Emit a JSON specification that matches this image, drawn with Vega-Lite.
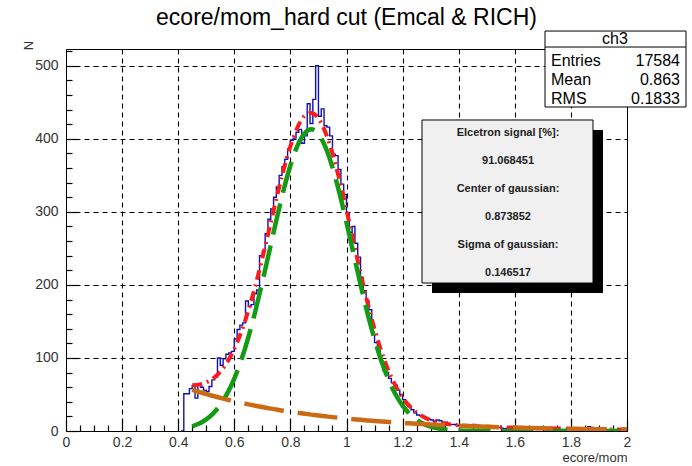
{
  "$schema": "https://vega.github.io/schema/vega-lite/v6.json",
  "width": 561,
  "height": 382,
  "autosize": {"type": "none"},
  "padding": {"left": 66, "top": 49, "right": 65, "bottom": 35},
  "background": "white",
  "config": {
    "font": "Liberation Sans",
    "view": {"stroke": "black", "strokeWidth": 1}
  },
  "title": {"text": "ecore/mom_hard cut (Emcal & RICH)", "fontSize": 23, "fontWeight": "normal", "color": "black", "offset": 1},
  "datasets": {
    "hist": [
      {"x":0.41,"n":0},{"x":0.42,"n":51},{"x":0.43,"n":51},{"x":0.44,"n":58},{"x":0.45,"n":62},{"x":0.46,"n":45},{"x":0.47,"n":64},{"x":0.48,"n":60},{"x":0.49,"n":56},
      {"x":0.50,"n":54},{"x":0.51,"n":61},{"x":0.52,"n":70},{"x":0.53,"n":74},{"x":0.54,"n":100},{"x":0.55,"n":90},{"x":0.56,"n":99},{"x":0.57,"n":105},{"x":0.58,"n":107},{"x":0.59,"n":109},
      {"x":0.60,"n":126},{"x":0.61,"n":139},{"x":0.62,"n":145},{"x":0.63,"n":148},{"x":0.64,"n":178},{"x":0.65,"n":171},{"x":0.66,"n":173},{"x":0.67,"n":188},{"x":0.68,"n":193},{"x":0.69,"n":240},
      {"x":0.70,"n":246},{"x":0.71,"n":270},{"x":0.72,"n":290},{"x":0.73,"n":304},{"x":0.74,"n":320},{"x":0.75,"n":334},{"x":0.76,"n":350},{"x":0.77,"n":362},{"x":0.78,"n":372},{"x":0.79,"n":386},
      {"x":0.80,"n":398},{"x":0.81,"n":401},{"x":0.82,"n":409},{"x":0.83,"n":413},{"x":0.84,"n":394},{"x":0.85,"n":404},{"x":0.86,"n":448},{"x":0.87,"n":421},{"x":0.88,"n":454},{"x":0.89,"n":500},
      {"x":0.90,"n":431},{"x":0.91,"n":441},{"x":0.92,"n":418},{"x":0.93,"n":416},{"x":0.94,"n":404},{"x":0.95,"n":379},{"x":0.96,"n":377},{"x":0.97,"n":358},{"x":0.98,"n":338},{"x":0.99,"n":324},
      {"x":1.00,"n":298},{"x":1.01,"n":272},{"x":1.02,"n":280},{"x":1.03,"n":257},{"x":1.04,"n":238},{"x":1.05,"n":210},{"x":1.06,"n":192},{"x":1.07,"n":178},{"x":1.08,"n":166},{"x":1.09,"n":132},
      {"x":1.10,"n":121},{"x":1.11,"n":110},{"x":1.12,"n":96},{"x":1.13,"n":83},{"x":1.14,"n":80},{"x":1.15,"n":72},{"x":1.16,"n":66},{"x":1.17,"n":63},{"x":1.18,"n":56},{"x":1.19,"n":50},
      {"x":1.20,"n":43},{"x":1.21,"n":37},{"x":1.22,"n":33},{"x":1.23,"n":29},{"x":1.24,"n":25},{"x":1.25,"n":22},{"x":1.26,"n":21},{"x":1.27,"n":20},{"x":1.28,"n":17},{"x":1.29,"n":16},
      {"x":1.30,"n":15},{"x":1.31,"n":13},{"x":1.32,"n":15},{"x":1.33,"n":14},{"x":1.34,"n":12},{"x":1.35,"n":12},{"x":1.36,"n":10},{"x":1.37,"n":9},{"x":1.38,"n":9},{"x":1.39,"n":8},
      {"x":1.40,"n":7},{"x":1.41,"n":7},{"x":1.42,"n":6},{"x":1.43,"n":7},{"x":1.44,"n":6},{"x":1.45,"n":9},{"x":1.46,"n":8},{"x":1.47,"n":6},{"x":1.48,"n":5},{"x":1.49,"n":5},
      {"x":1.50,"n":6},{"x":1.51,"n":4},{"x":1.52,"n":5},{"x":1.53,"n":4},{"x":1.54,"n":5},{"x":1.55,"n":4},{"x":1.56,"n":3},{"x":1.57,"n":4},{"x":1.58,"n":5},{"x":1.59,"n":3},
      {"x":1.60,"n":4},{"x":1.61,"n":3},{"x":1.62,"n":3},{"x":1.63,"n":4},{"x":1.64,"n":3},{"x":1.65,"n":2},{"x":1.66,"n":3},{"x":1.67,"n":3},{"x":1.68,"n":2},{"x":1.69,"n":3},
      {"x":1.70,"n":2},{"x":1.71,"n":3},{"x":1.72,"n":2},{"x":1.73,"n":2},{"x":1.74,"n":3},{"x":1.75,"n":2},{"x":1.76,"n":2},{"x":1.77,"n":1},{"x":1.78,"n":2},{"x":1.79,"n":2},
      {"x":1.80,"n":1},{"x":1.81,"n":2},{"x":1.82,"n":1},{"x":1.83,"n":2},{"x":1.84,"n":1},{"x":1.85,"n":2},{"x":1.86,"n":6},{"x":1.87,"n":5},{"x":1.88,"n":2},{"x":1.89,"n":1},
      {"x":1.90,"n":1},{"x":1.91,"n":2},{"x":1.92,"n":1},{"x":1.93,"n":1},{"x":1.94,"n":0},{"x":1.95,"n":1},{"x":1.96,"n":1},{"x":1.97,"n":0},{"x":1.98,"n":1},{"x":1.99,"n":0},{"x":2.00,"n":0}
    ],
    "fit": [
      {"x":0.45,"g":6.27,"b":56.4,"s":62.7},{"x":0.475,"g":10.12,"b":53.4,"s":63.5},{"x":0.50,"g":15.88,"b":50.6,"s":66.5},{"x":0.525,"g":24.19,"b":47.9,"s":72.1},
      {"x":0.55,"g":35.79,"b":45.4,"s":81.2},{"x":0.575,"g":51.45,"b":43.0,"s":94.4},{"x":0.60,"g":71.83,"b":40.7,"s":112.5},{"x":0.625,"g":97.42,"b":38.6,"s":136.0},
      {"x":0.65,"g":128.3,"b":36.5,"s":164.8},{"x":0.675,"g":164.2,"b":34.6,"s":198.8},{"x":0.70,"g":204.0,"b":32.8,"s":236.8},{"x":0.725,"g":246.2,"b":31.0,"s":277.2},
      {"x":0.75,"g":288.7,"b":29.4,"s":318.1},{"x":0.775,"g":328.7,"b":27.8,"s":356.5},{"x":0.80,"g":363.5,"b":26.4,"s":389.9},{"x":0.825,"g":390.5,"b":25.0,"s":415.5},
      {"x":0.85,"g":407.5,"b":23.7,"s":431.2},{"x":0.875,"g":413.0,"b":22.4,"s":435.4},{"x":0.90,"g":406.5,"b":21.2,"s":427.7},{"x":0.925,"g":388.7,"b":20.1,"s":408.8},
      {"x":0.95,"g":361.0,"b":19.0,"s":380.0},{"x":0.975,"g":325.6,"b":18.0,"s":343.6},{"x":1.00,"g":285.3,"b":17.1,"s":302.4},{"x":1.025,"g":242.8,"b":16.2,"s":259.0},
      {"x":1.05,"g":200.7,"b":15.3,"s":216.0},{"x":1.075,"g":161.1,"b":14.5,"s":175.6},{"x":1.10,"g":125.6,"b":13.8,"s":139.4},{"x":1.125,"g":95.2,"b":13.0,"s":108.2},
      {"x":1.15,"g":70.0,"b":12.3,"s":82.3},{"x":1.175,"g":50.0,"b":11.7,"s":61.7},{"x":1.20,"g":34.7,"b":11.1,"s":45.8},{"x":1.225,"g":23.4,"b":10.5,"s":33.9},
      {"x":1.25,"g":15.33,"b":9.93,"s":25.3},{"x":1.275,"g":9.75,"b":9.41,"s":19.2},{"x":1.30,"g":6.02,"b":8.91,"s":14.9},{"x":1.35,"g":2.11,"b":8.0,"s":10.1},
      {"x":1.40,"g":0.66,"b":7.17,"s":7.83},{"x":1.45,"g":0.18,"b":6.44,"s":6.62},{"x":1.50,"g":0.05,"b":5.78,"s":5.83},{"x":1.55,"g":0.01,"b":5.18,"s":5.19},
      {"x":1.60,"g":0,"b":4.65,"s":4.65},{"x":1.65,"g":0,"b":4.17,"s":4.17},{"x":1.70,"g":0,"b":3.74,"s":3.74},{"x":1.75,"g":0,"b":3.36,"s":3.36},
      {"x":1.80,"g":0,"b":3.01,"s":3.01},{"x":1.85,"g":0,"b":2.70,"s":2.70},{"x":1.90,"g":0,"b":2.42,"s":2.42},{"x":1.95,"g":0,"b":2.17,"s":2.17},{"x":2.00,"g":0,"b":1.95,"s":1.95}
    ]
  },
  "layer": [
    {
      "data": {"name": "hist"},
      "mark": {"type": "line", "interpolate": "step-after", "color": "#1010b0", "strokeWidth": 1.4, "clip": true},
      "encoding": {
        "x": {"field": "x", "type": "quantitative", "scale": {"domain": [0, 2], "nice": false, "zero": false},
          "axis": {
            "values": [0,0.05,0.1,0.15,0.2,0.25,0.3,0.35,0.4,0.45,0.5,0.55,0.6,0.65,0.7,0.75,0.8,0.85,0.9,0.95,1,1.05,1.1,1.15,1.2,1.25,1.3,1.35,1.4,1.45,1.5,1.55,1.6,1.65,1.7,1.75,1.8,1.85,1.9,1.95,2],
            "tickCount": 200,
            "format": ".2~f",
            "labelExpr": "abs(datum.value*5-round(datum.value*5))<0.001 ? datum.label : ''",
            "tickSize": -12,
            "tickDash": {"condition": {"test": "abs(datum.value*5-round(datum.value*5))<0.001", "value": [12, 2]}, "value": [6, 30]},
            "grid": true,
            "gridColor": "black", "gridDash": [5, 4], "gridWidth": 1.1,
            "gridOpacity": {"condition": {"test": "abs(datum.value*5-round(datum.value*5))<0.001 && datum.value>0.01 && datum.value<1.99", "value": 1}, "value": 0},
            "tickColor": "black", "tickWidth": 1.2, "domainColor": "black", "domainWidth": 1,
            "labelFontSize": 14, "labelColor": "#333", "labelPadding": 16, "labelFlush": false, "labelOverlap": false,
            "title": "ecore/mom", "titleFontSize": 13, "titleFontWeight": "normal", "titleColor": "#333",
            "titleAnchor": "end", "titleAlign": "right", "titleBaseline": "middle", "titleX": 561, "titleY": 26
          }},
        "y": {"field": "n", "type": "quantitative", "scale": {"domain": [0, 523], "nice": false, "zero": false},
          "axis": {
            "values": [0,20,40,60,80,100,120,140,160,180,200,220,240,260,280,300,320,340,360,380,400,420,440,460,480,500,520],
            "tickCount": 200,
            "labelExpr": "abs(datum.value/100-round(datum.value/100))<0.001 ? datum.label : ''",
            "tickSize": -12,
            "tickDash": {"condition": {"test": "abs(datum.value/100-round(datum.value/100))<0.001", "value": [12, 2]}, "value": [6, 30]},
            "grid": true,
            "gridColor": "black", "gridDash": [5, 4], "gridWidth": 1.1,
            "gridOpacity": {"condition": {"test": "abs(datum.value/100-round(datum.value/100))<0.001 && datum.value>1", "value": 1}, "value": 0},
            "tickColor": "black", "tickWidth": 1.2, "domainColor": "black", "domainWidth": 1,
            "labelFontSize": 14, "labelColor": "#333", "labelPadding": 20, "labelFlush": false, "labelOverlap": false,
            "title": "N", "titleFontSize": 13, "titleFontWeight": "normal", "titleColor": "#333",
            "titleAngle": 270, "titleAlign": "center", "titleBaseline": "middle", "titleX": -38, "titleY": -4
          }}
      }
    },
    {
      "data": {"name": "fit"},
      "mark": {"type": "line", "interpolate": "monotone", "color": "#ff1a1a", "strokeWidth": 4, "strokeDash": [10, 5, 2, 5], "clip": true},
      "encoding": {"x": {"field": "x", "type": "quantitative"}, "y": {"field": "s", "type": "quantitative"}}
    },
    {
      "data": {"name": "fit"},
      "mark": {"type": "line", "interpolate": "monotone", "color": "#149b14", "strokeWidth": 4.5, "strokeDash": [32, 11], "clip": true},
      "encoding": {"x": {"field": "x", "type": "quantitative"}, "y": {"field": "g", "type": "quantitative"}}
    },
    {
      "data": {"name": "fit"},
      "mark": {"type": "line", "interpolate": "monotone", "color": "#cc6a14", "strokeWidth": 4.5, "strokeDash": [40, 14], "clip": true},
      "encoding": {"x": {"field": "x", "type": "quantitative"}, "y": {"field": "b", "type": "quantitative"}}
    },
    {
      "data": {"values": [{}]},
      "mark": {"type": "rect", "fill": "black"},
      "encoding": {
        "x": {"datum": 1.3048, "type": "quantitative"}, "x2": {"datum": 1.9144},
        "y": {"datum": 412.1, "type": "quantitative"}, "y2": {"datum": 188.9}
      }
    },
    {
      "data": {"values": [{}]},
      "mark": {"type": "rect", "fill": "#f0f0f0", "stroke": "black", "strokeWidth": 1},
      "encoding": {
        "x": {"datum": 1.2692, "type": "quantitative"}, "x2": {"datum": 1.8788},
        "y": {"datum": 425.8, "type": "quantitative"}, "y2": {"datum": 202.6}
      }
    },
    {
      "data": {"values": [{}]},
      "mark": {"type": "text", "font": "Liberation Sans", "fontSize": 11, "fontWeight": "bold", "color": "#222", "align": "center", "baseline": "top", "lineHeight": 28},
      "encoding": {
        "x": {"datum": 1.5758, "type": "quantitative"},
        "y": {"datum": 416.4, "type": "quantitative"},
        "text": {"value": ["Elcetron signal [%]:", "91.068451", "Center of gaussian:", "0.873852", "Sigma of gaussian:", "0.146517"]}
      }
    },
    {
      "data": {"values": [{}]},
      "mark": {"type": "rect", "fill": "white", "stroke": "black", "strokeWidth": 1},
      "encoding": {
        "x": {"datum": 1.7077, "type": "quantitative"}, "x2": {"datum": 2.2103},
        "y": {"datum": 547.6, "type": "quantitative"}, "y2": {"datum": 443.6}
      }
    },
    {
      "data": {"values": [{}]},
      "mark": {"type": "rule", "color": "black", "strokeWidth": 1},
      "encoding": {
        "x": {"datum": 1.7077, "type": "quantitative"}, "x2": {"datum": 2.2103},
        "y": {"datum": 525.7, "type": "quantitative"}
      }
    },
    {
      "data": {"values": [{}]},
      "mark": {"type": "text", "font": "Liberation Sans", "fontSize": 16, "color": "black", "align": "center", "baseline": "middle"},
      "encoding": {
        "x": {"datum": 1.9572, "type": "quantitative"},
        "y": {"datum": 536.7, "type": "quantitative"},
        "text": {"value": "ch3"}
      }
    },
    {
      "data": {"values": [{}]},
      "mark": {"type": "text", "font": "Liberation Sans", "fontSize": 16, "color": "black", "align": "left", "baseline": "top", "lineHeight": 19},
      "encoding": {
        "x": {"datum": 1.7291, "type": "quantitative"},
        "y": {"datum": 517.2, "type": "quantitative"},
        "text": {"value": ["Entries", "Mean", "RMS"]}
      }
    },
    {
      "data": {"values": [{}]},
      "mark": {"type": "text", "font": "Liberation Sans", "fontSize": 16, "color": "black", "align": "right", "baseline": "top", "lineHeight": 19},
      "encoding": {
        "x": {"datum": 2.189, "type": "quantitative"},
        "y": {"datum": 517.2, "type": "quantitative"},
        "text": {"value": ["17584", "0.863", "0.1833"]}
      }
    }
  ]
}
